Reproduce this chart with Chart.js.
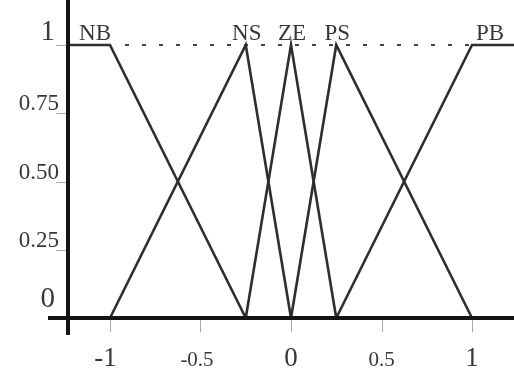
<!DOCTYPE html>
<html>
<head>
<meta charset="utf-8">
<script src="https://cdn.jsdelivr.net/npm/chart.js@4"></script>
<style>
  html, body { margin: 0; padding: 0; background: #fff; }
  #wrap { width: 514px; height: 374px; position: relative; }
</style>
</head>
<body>
<div id="wrap"><canvas id="chart"></canvas></div>
<script>
// membership functions, breakpoints
const seriesNames = ['NB', 'NS', 'ZE', 'PS', 'PB'];
const nbX = [-1.232, -1, -0.25];
const nbY = [1, 1, 0];
const nsX = [-1, -0.25, 0];
const nsY = [0, 1, 0];
const zeX = [-0.25, 0, 0.25];
const zeY = [0, 1, 0];
const psX = [0, 0.25, 1];
const psY = [0, 1, 0];
const pbX = [0.25, 1, 1.232];
const pbY = [0, 1, 1];

const xTicks = [-1, -0.5, 0, 0.5, 1];
const xTickLabels = ['-1', '-0.5', '0', '0.5', '1'];
const yTicks = [0, 0.25, 0.5, 0.75, 1];
const yTickLabels = ['0', '0.25', '0.50', '0.75', '1'];

const allX = [nbX, nsX, zeX, psX, pbX];
const allY = [nbY, nsY, zeY, psY, pbY];

const serif = '"Liberation Serif", "DejaVu Serif", serif';
const inkColor = '#383838';

const axesPlugin = {
  id: 'fuzzyAxes',
  beforeDatasetsDraw(chart) {
    const { ctx, scales: { x, y } } = chart;
    // dotted line at full membership
    ctx.save();
    ctx.strokeStyle = '#444';
    ctx.lineWidth = 2;
    ctx.setLineDash([4, 13]);
    ctx.beginPath();
    ctx.moveTo(x.getPixelForValue(-1) + 15, y.getPixelForValue(1));
    ctx.lineTo(x.getPixelForValue(1), y.getPixelForValue(1));
    ctx.stroke();
    ctx.restore();
  },
  afterDatasetsDraw(chart) {
    const { ctx, scales: { x, y } } = chart;
    const x0 = x.getPixelForValue(x.min);
    const y0 = y.getPixelForValue(0);
    ctx.save();

    // small tick marks
    ctx.strokeStyle = '#aaa';
    ctx.lineWidth = 1;
    yTicks.forEach(v => {
      const py = Math.round(y.getPixelForValue(v)) + 0.5;
      ctx.beginPath();
      ctx.moveTo(x0 - 12, py);
      ctx.lineTo(x0, py);
      ctx.stroke();
    });
    xTicks.forEach(v => {
      const px = Math.round(x.getPixelForValue(v)) + 0.5;
      ctx.beginPath();
      ctx.moveTo(px, y0 + 2);
      ctx.lineTo(px, y0 + 14);
      ctx.stroke();
    });

    // axes
    ctx.strokeStyle = '#151515';
    ctx.lineWidth = 4;
    ctx.beginPath();
    ctx.moveTo(x0, 0);
    ctx.lineTo(x0, y0 + 17);
    ctx.moveTo(x0 - 20, y0);
    ctx.lineTo(chart.width, y0);
    ctx.stroke();

    // y tick labels
    ctx.fillStyle = inkColor;
    ctx.textAlign = 'right';
    ctx.textBaseline = 'alphabetic';
    yTicks.forEach((v, i) => {
      const txt = yTickLabels[i];
      const isInt = txt.length === 1;
      ctx.font = (isInt ? 29 : 23) + 'px ' + serif;
      const py = y.getPixelForValue(v);
      ctx.fillText(txt, x0 - (isInt ? 13 : 9), py - (isInt ? (v === 0 ? 11 : 5) : 3));
    });

    // x tick labels
    ctx.textAlign = 'center';
    xTicks.forEach((v, i) => {
      const txt = xTickLabels[i];
      const isInt = !txt.includes('.');
      ctx.font = (isInt ? 27 : 21) + 'px ' + serif;
      let px = x.getPixelForValue(v);
      if (txt.startsWith('-')) px -= ctx.measureText('-').width / 2;
      ctx.fillText(txt, px, 366);
    });

    // series names
    ctx.font = '23px ' + serif;
    const topY = y.getPixelForValue(1) - 5;
    seriesNames.forEach((name, i) => {
      const xs = allX[i], ys = allY[i];
      if (i === 0) {
        ctx.textAlign = 'right';
        ctx.fillText(name, x.getPixelForValue(xs[1]) + 1, topY);
      } else if (i === seriesNames.length - 1) {
        ctx.textAlign = 'left';
        ctx.fillText(name, x.getPixelForValue(xs[1]) + 4, topY);
      } else {
        ctx.textAlign = 'center';
        const peak = xs[ys.indexOf(1)];
        ctx.fillText(name, x.getPixelForValue(peak) + 1, topY);
      }
    });
    ctx.restore();
  }
};

new Chart(document.getElementById('chart'), {
  type: 'line',
  data: {
    datasets: seriesNames.map((name, i) => ({
      label: name,
      data: allX[i].map((v, j) => ({ x: v, y: allY[i][j] })),
      borderColor: '#2e2e2e',
      borderWidth: 2.6,
      borderJoinStyle: 'miter',
      pointRadius: 0,
      fill: false,
      clip: false
    }))
  },
  options: {
    responsive: true,
    maintainAspectRatio: false,
    animation: false,
    layout: { padding: { left: 68, right: 0, top: 0, bottom: 56 } },
    plugins: { legend: { display: false }, tooltip: { enabled: false } },
    scales: {
      x: { type: 'linear', min: -1.232, max: 1.232, display: false },
      y: { type: 'linear', min: 0, max: 1.165, display: false }
    },
    elements: { line: { tension: 0 } }
  },
  plugins: [axesPlugin]
});
</script>
</body>
</html>
